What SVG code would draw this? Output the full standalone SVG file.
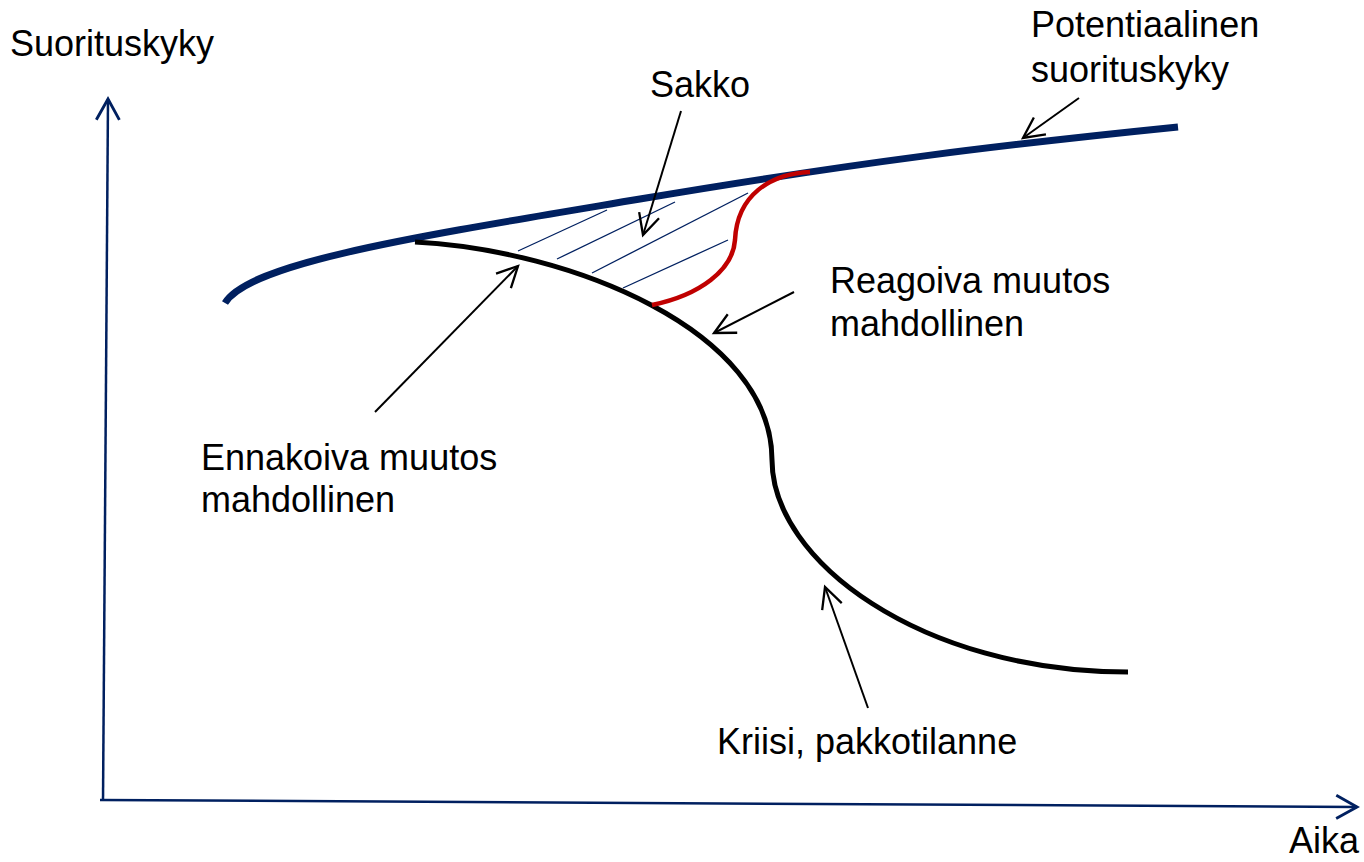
<svg xmlns="http://www.w3.org/2000/svg" width="1364" height="862" viewBox="0 0 1364 862">
<style>
  text { font-family: "Liberation Sans", Arial, sans-serif; font-size: 36px; fill: #000; }
  .axis { stroke: #002060; stroke-width: 2.5; fill: none; }
  .pot { stroke: #002060; stroke-width: 7; fill: none; }
  .crisis { stroke: #000; stroke-width: 5; fill: none; }
  .react { stroke: #C00000; stroke-width: 4.5; fill: none; }
  .hatch { stroke: #002060; stroke-width: 1.3; fill: none; }
  .ptr { stroke: #000; stroke-width: 2; fill: none; }
</style>
<defs>
  <marker id="axhead" markerUnits="userSpaceOnUse" markerWidth="30" markerHeight="30" refX="0" refY="0" viewBox="-22 -12 26 24" orient="auto" overflow="visible">
    <path d="M-18,-10 L0,0 L-18,10" fill="none" stroke="#002060" stroke-width="2.5"/>
  </marker>
  <marker id="ptrhead" markerUnits="userSpaceOnUse" markerWidth="30" markerHeight="30" refX="0" refY="0" viewBox="-22 -12 26 24" orient="auto" overflow="visible">
    <path d="M-18,-9 L0,0 L-18,9" fill="none" stroke="#000" stroke-width="2"/>
  </marker>
</defs>
<rect width="1364" height="862" fill="#fff"/>

<g id="axes">
  <line class="axis" x1="103" y1="801" x2="108" y2="99" marker-end="url(#axhead)"/>
  <line class="axis" x1="100" y1="800" x2="1357" y2="807" marker-end="url(#axhead)"/>
</g>

<g id="hatching">
  <line class="hatch" x1="518" y1="251" x2="607" y2="210"/>
  <line class="hatch" x1="557" y1="259" x2="675" y2="202"/>
  <line class="hatch" x1="592" y1="273" x2="748" y2="193"/>
  <line class="hatch" x1="623" y1="288" x2="728" y2="240"/>
</g>

<g id="potential-curve">
  <path class="pot" d="M225,303 C250,262 420,236 640,199 S1000,145 1178,127"/>
</g>

<g id="crisis-curve">
  <path class="crisis" d="M415,242 C570,250 772,330 772,460 C772,560 920,672 1128,672"/>
</g>

<g id="reactive-curve">
  <path class="react" d="M652,305 C700,295 733,270 735,240 C737,195 770,174 810,172"/>
</g>

<g id="connectors">
  <line class="ptr" x1="681" y1="111" x2="643" y2="235" marker-end="url(#ptrhead)"/>
  <line class="ptr" x1="1079" y1="98" x2="1023" y2="138" marker-end="url(#ptrhead)"/>
  <line class="ptr" x1="375" y1="412" x2="518" y2="266" marker-end="url(#ptrhead)"/>
  <line class="ptr" x1="794" y1="292" x2="714" y2="333" marker-end="url(#ptrhead)"/>
  <line class="ptr" x1="868" y1="708" x2="825" y2="587" marker-end="url(#ptrhead)"/>
</g>

<g id="label-y">
  <text x="10" y="56">Suorituskyky</text>
</g>
<g id="label-x">
  <text x="1289" y="853">Aika</text>
</g>
<g id="label-sakko">
  <text x="650" y="97">Sakko</text>
</g>
<g id="label-potential">
  <text x="1031" y="37">Potentiaalinen</text>
  <text x="1031" y="82">suorituskyky</text>
</g>
<g id="label-reactive">
  <text x="830" y="293">Reagoiva muutos</text>
  <text x="830" y="336">mahdollinen</text>
</g>
<g id="label-proactive">
  <text x="201" y="470">Ennakoiva muutos</text>
  <text x="201" y="512">mahdollinen</text>
</g>
<g id="label-crisis">
  <text x="717" y="754">Kriisi, pakkotilanne</text>
</g>
</svg>
